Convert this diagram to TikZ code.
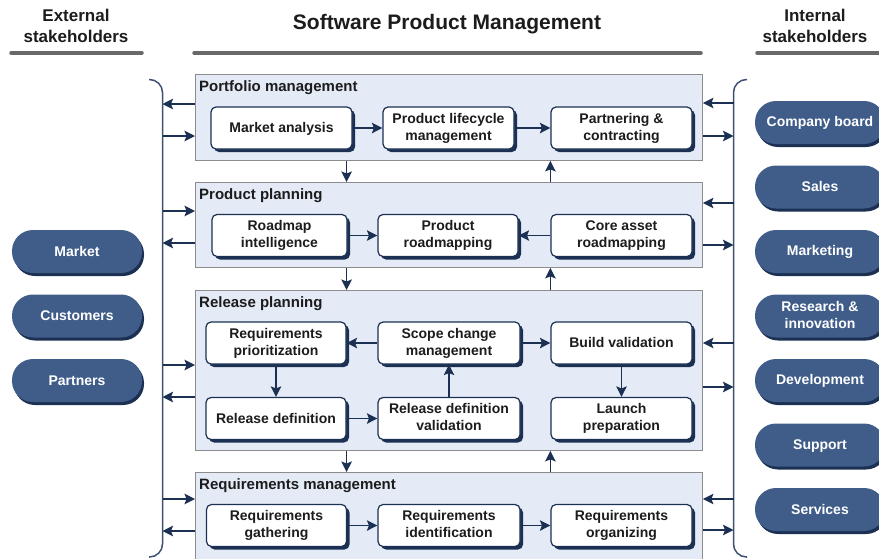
\documentclass[tikz,border=0pt]{standalone}
\usepackage{fontspec}
\setmainfont{Liberation Sans}
\usetikzlibrary{arrows.meta,shadows,calc}
\definecolor{navy}{RGB}{27,48,82}
\definecolor{pillblue}{RGB}{64,93,138}
\definecolor{grpfill}{RGB}{228,235,247}
\definecolor{grpline}{RGB}{140,140,140}
\definecolor{rulegray}{RGB}{105,105,105}
\definecolor{bracecol}{RGB}{60,80,112}
\definecolor{txt}{RGB}{28,28,28}
\tikzset{
  arr/.style={line width=1.3pt, draw=navy, -{Stealth[length=10.5pt,width=10.5pt,inset=2pt]}},
  group/.style={draw=grpline, fill=grpfill, line width=0.9pt, anchor=north west, inner sep=0pt, minimum width=507pt},
  gtitle/.style={anchor=base west, inner sep=0pt, font=\fontsize{15}{18}\selectfont\bfseries, text=txt},
  evenline/.style={execute at begin node={\rule{0pt}{11.5pt}}, execute at end node={\rule[-2.5pt]{0pt}{2.5pt}}},
  task/.style={draw=navy, fill=white, line width=1.2pt, rounded corners=5pt, minimum height=42pt,
    minimum width=141pt, align=center, inner sep=1pt, font=\fontsize{14}{17}\selectfont\bfseries, text=txt,
    evenline, drop shadow={shadow xshift=3pt, shadow yshift=-3pt, fill=navy, opacity=1}},
  holder/.style={fill=pillblue, rounded corners=21pt, minimum height=43pt, minimum width=130pt,
    align=center, inner sep=1pt, font=\fontsize{14}{16.5}\selectfont\bfseries, text=white,
    evenline, drop shadow={shadow xshift=2pt, shadow yshift=-3pt, fill=navy, opacity=1}},
  head/.style={align=center, inner sep=0pt, text=txt},
  bar/.style={line width=3.5pt, draw=rulegray, line cap=round},
  brace/.style={line width=1.5pt, draw=bracecol, rounded corners=13pt}
}
\begin{document}
\begin{tikzpicture}[x=1pt, y=-1pt]
\useasboundingbox (0,0) rectangle (879,558);
% headers
\node[head, font=\fontsize{17}{21}\selectfont\bfseries] (exth) at (76,26) {External\\stakeholders};
\node[head, font=\fontsize{21}{24}\selectfont\bfseries] (spmh) at (447,24) {Software Product Management};
\node[head, font=\fontsize{17}{21}\selectfont\bfseries] (inth) at (815,26) {Internal\\stakeholders};
\draw[bar] (11,53) -- (142,53);
\draw[bar] (194,53) -- (701,53);
\draw[bar] (757,53) -- (885,53);

% groups
\node[group, minimum height=86pt] (pm) at (195,74) {};
\node[group, minimum height=85pt] (pp) at (195,182) {};
\node[group, minimum height=160pt] (rp) at (195,290) {};
\node[group, minimum height=90pt] (rm) at (195,472) {};
\node[gtitle] (pmt) at ($(pm.north west)+(4,17)$) {Portfolio management};
\node[gtitle] (ppt) at ($(pp.north west)+(4,17)$) {Product planning};
\node[gtitle] (rpt) at ($(rp.north west)+(4,17)$) {Release planning};
\node[gtitle] (rmt) at ($(rm.north west)+(4,17)$) {Requirements management};

% Portfolio management
\node[task] (ma) at (281.5,128) {Market analysis};
\node[task, minimum width=131pt] (plm) at (448.5,128) {Product lifecycle\\management};
\node[task] (pc) at (621.5,128) {Partnering \&\\contracting};
% Product planning
\node[task, minimum width=135pt] (ri) at (279.5,235.5) {Roadmap\\intelligence};
\node[task, minimum width=140pt] (pr) at (448,235.5) {Product\\roadmapping};
\node[task] (car) at (621.5,235.5) {Core asset\\roadmapping};
% Release planning
\node[task, minimum width=140pt] (rpz) at (276,343) {Requirements\\prioritization};
\node[task, minimum width=142pt] (scm) at (449,343) {Scope change\\management};
\node[task] (bv) at (621.5,343) {Build validation};
\node[task, minimum width=140pt] (rd) at (276,418.5) {Release definition};
\node[task, minimum width=142pt] (rdv) at (449,418.5) {Release definition\\validation};
\node[task] (lp) at (621.5,418.5) {Launch\\preparation};
% Requirements management
\node[task, minimum width=140pt] (rg) at (276.5,525.5) {Requirements\\gathering};
\node[task, minimum width=142pt] (rid) at (449,525.5) {Requirements\\identification};
\node[task] (ro) at (621.5,525.5) {Requirements\\organizing};

\draw[arr] (ma) -- (plm);
\draw[arr] (plm) -- (pc);
\draw[arr] (ri) -- (pr);
\draw[arr] (car) -- (pr);
\draw[arr] (scm) -- (rpz);
\draw[arr] (scm) -- (bv);
\draw[arr] (rpz) -- (rd);
\draw[arr] (rd) -- (rdv);
\draw[arr] (rdv) -- (scm);
\draw[arr] (bv) -- (lp);
\draw[arr] (rg) -- (rid);
\draw[arr] (rid) -- (ro);

% between groups
\foreach \a/\b in {pm/pp, pp/rp, rp/rm}{
  \draw[arr] (\a.south -| rpz.east) -- (\b.north -| rpz.east);%down
  \draw[arr] (\b.north -| pc.west) -- (\a.south -| pc.west);%up
}

% brackets
\coordinate (xl) at (162.5,0);
\coordinate (xr) at (733.5,0);
\draw[brace] (149,79.5) -- (xl |- 0,79.5) -- (xl |- 0,557) -- (149,557);
\draw[brace] (747,79.5) -- (xr |- 0,79.5) -- (xr |- 0,557) -- (747,557);
\foreach \g/\yin/\yout in {pm/136/104, pp/211/243, rp/365/397, rm/499/531}{
  \draw[arr] (xl |- 0,\yin) -- (\g.west |- 0,\yin);
  \draw[arr] (\g.west |- 0,\yout) -- (xl |- 0,\yout);
}
\foreach \g/\yin/\yout in {pm/103/136, pp/203/245, rp/343/387, rm/499/530}{
  \draw[arr] (xr |- 0,\yin) -- (\g.east |- 0,\yin);
  \draw[arr] (\g.east |- 0,\yout) -- (xr |- 0,\yout);
}

% stakeholders
\node[holder] (mk) at (77,251.5) {Market};
\node[holder] (cu) at (77,316) {Customers};
\node[holder] (pa) at (77,380.5) {Partners};
\node[holder] (cb) at (820,122.5) {Company board};
\node[holder] (sa) at (820,187) {Sales};
\node[holder] (mt) at (820,251.5) {Marketing};
\node[holder] (ri2) at (820,316) {Research \&\\innovation};
\node[holder] (dv) at (820,380.5) {Development};
\node[holder] (su) at (820,445) {Support};
\node[holder] (se) at (820,509.5) {Services};
\end{tikzpicture}
\end{document}
